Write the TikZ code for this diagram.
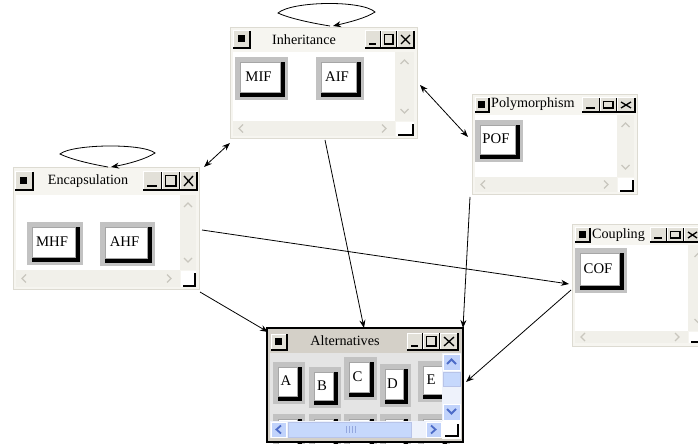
\documentclass[tikz,border=0pt]{standalone}
\usepackage{fontspec}
\setmainfont{Liberation Serif}
\usetikzlibrary{arrows.meta}
\definecolor{winbg}{HTML}{F6F5F0}
\definecolor{winedge}{HTML}{DDDBD2}
\definecolor{btnframe}{HTML}{C2C2C2}
\definecolor{sbtrack}{HTML}{F1F0EA}
\definecolor{sbmark}{HTML}{C9C7BE}
\definecolor{capface}{HTML}{E2E0D8}
\definecolor{altbg}{HTML}{D4D0C8}
\definecolor{altcontent}{HTML}{E4E4E4}
\definecolor{xpblue}{HTML}{C1D3FB}
\definecolor{xpthumb}{HTML}{C6D8FC}
\definecolor{xptrack}{HTML}{EEF2FB}
\definecolor{xpmark}{HTML}{4D6CC8}
\tikzset{
  conn/.style={line width=0.8bp, black},
  tip/.style={-{Stealth[length=8bp,width=6bp]}},
  dtip/.style={{Stealth[length=8bp,width=6bp]}-{Stealth[length=8bp,width=6bp]}},
  wtitle/.style={inner sep=0pt, font=\fontsize{14.2}{16}\selectfont},
  blabel/.style={inner sep=0pt, font=\fontsize{14.8}{17}\selectfont},
}
% 3D push button: name, x1, y1, x2, y2, label
\newcommand{\pushbtn}[6]{%
  \fill[btnframe] (#2,#3) rectangle (#4,#5);
  \fill[black] (#2+5,#3+5) rectangle (#4-3,#5-3);
  \filldraw[fill=white, draw=gray!70, line width=0.6bp] (#2+5,#3+5) rectangle (#4-8,#5-8);
  \node[blabel] (#1) at ({(#2+#4)/2-3},{(#3+#5)/2-2}) {#6};
}
% caption box x1 y1 x2 y2
\newcommand{\capbox}[4]{%
  \fill[capface] (#1,#2) rectangle (#3,#4);
  \draw[white, line width=1bp] (#1,#4) -- (#1,#2) -- (#3,#2);
  \draw[black, line width=1.2bp] (#1,#4) -- (#3,#4) -- (#3,#2);
}
% three caption buttons: x0 y1 x1 x2 x3 y2
\newcommand{\capbtns}[6]{%
  \capbox{#1}{#2}{#3}{#6}\capbox{#3}{#2}{#4}{#6}\capbox{#4}{#2}{#5}{#6}
  \draw[black, line width=2.2bp] (#1+4,#6-4) -- (#3-5,#6-4);
  \draw[black, line width=1.1bp] (#3+3.5,#2+3.5) rectangle (#4-4,#6-4);
  \draw[black, line width=1.3bp] (#4+4,#2+4) -- (#5-4,#6-4) (#4+4,#6-4) -- (#5-4,#2+4);
}
% system button x1 y1 x2 y2
\newcommand{\sysbtn}[4]{%
  \capbox{#1}{#2}{#3}{#4}
  \fill[black] ({(#1+#3)/2-4},{(#2+#4)/2-4}) rectangle ({(#1+#3)/2+3},{(#2+#4)/2+3});
}
% standard window: x1 y1 x2 y2 titlebottom scrollx hscrolly
\newcommand{\stdwin}[7]{%
  \filldraw[fill=winbg, draw=winedge, line width=1bp] (#1,#2) rectangle (#3,#4);
  \fill[white] (#1+3,#5+2) rectangle (#6,#7);
  \fill[sbtrack] (#6,#5+2) rectangle (#3-3,#7);
  \draw[sbmark, line width=1.3bp] ({(#6+#3-3)/2-4},#5+14) -- ({(#6+#3-3)/2},#5+10) -- ({(#6+#3-3)/2+4},#5+14);
  \draw[sbmark, line width=1.3bp] ({(#6+#3-3)/2-4},#7-12) -- ({(#6+#3-3)/2},#7-8) -- ({(#6+#3-3)/2+4},#7-12);
  \fill[sbtrack] (#1+3,#7) rectangle (#6,#4-3);
  \draw[sbmark, line width=1.3bp] (#1+13,{(#7+#4-3)/2-4}) -- (#1+9,{(#7+#4-3)/2}) -- (#1+13,{(#7+#4-3)/2+4});
  \draw[sbmark, line width=1.3bp] (#6-13,{(#7+#4-3)/2-4}) -- (#6-9,{(#7+#4-3)/2}) -- (#6-13,{(#7+#4-3)/2+4});
  \fill[white] (#6+1,#7+1) rectangle (#3-3,#4-3);
  \draw[black, line width=1.3bp] (#6+3,#4-4) -- (#3-4,#4-4) -- (#3-4,#7+3);
}
\begin{document}
\begin{tikzpicture}[x=1bp, y=-1bp]
\clip (0,0) rectangle (698,444);
\fill[white] (0,0) rectangle (698,444);

% ---------------- Inheritance ----------------
\stdwin{230}{28}{417}{139}{50}{395}{121}
\sysbtn{233}{31}{250}{48}
\node[wtitle] (tInh) at (304,40) {Inheritance};
\capbtns{365}{31}{381}{397}{414}{48}
\pushbtn{bMIF}{235}{57}{288}{100}{MIF}
\pushbtn{bAIF}{316}{57}{364}{100}{AIF}

% ---------------- Encapsulation ----------------
\stdwin{13}{168}{199}{290}{193}{180}{270}
\sysbtn{15}{172}{33}{190}
\node[wtitle] (tEnc) at (88,181) {Encapsulation};
\capbtns{143}{172}{162}{180}{197}{190}
\pushbtn{bMHF}{27}{222}{83}{265}{MHF}
\pushbtn{bAHF}{100}{222}{155}{266}{AHF}

% ---------------- Polymorphism ----------------
\stdwin{472}{95}{637}{195}{113}{617}{177}
\sysbtn{475}{98}{489}{112}
\node[wtitle, anchor=west] (tPol) at (491,104) {Polymorphism};
\capbtns{582}{98}{600}{617}{635}{112}
\pushbtn{bPOF}{475}{120}{523}{162}{POF}

% ---------------- Coupling ----------------
\stdwin{572}{225}{712}{346}{243}{688}{331}
\sysbtn{575}{228}{590}{242}
\node[wtitle, anchor=west] (tCou) at (592,235) {Coupling};
\capbtns{650}{228}{667}{684}{701}{242}
\pushbtn{bCOF}{575}{248}{627}{293}{COF}

% ---------------- Alternatives ----------------
\fill[altbg] (267,328) rectangle (463,442);
\fill[altcontent] (270,353) rectangle (442,421);
\pushbtn{bA}{273}{362}{305}{404}{A}
\pushbtn{bB}{309}{367}{341}{408}{B}
\pushbtn{bC}{344}{357}{377}{400}{C}
\pushbtn{bD}{380}{364}{411}{407}{D}
\pushbtn{bE}{418}{361}{450}{402}{E}
\pushbtn{bF}{273}{414}{305}{455}{}
\pushbtn{bG}{309}{414}{341}{455}{}
\pushbtn{bH}{344}{414}{377}{455}{}
\pushbtn{bI}{380}{414}{411}{455}{}
\pushbtn{bJ}{418}{414}{450}{455}{}
\fill[altbg] (268,421) rectangle (462,442);
% vertical scrollbar
\fill[xptrack] (442,353) rectangle (461,421);
\filldraw[fill=xpblue, draw=white] (443,354) rectangle (460,370);
\draw[xpmark, line width=1.8bp] (447,364) -- (451.5,359.5) -- (456,364);
\filldraw[fill=xpthumb, draw=xpmark!40] (443,372) rectangle (460,386);
\filldraw[fill=xpblue, draw=white] (443,404) rectangle (460,420);
\draw[xpmark, line width=1.8bp] (447,409) -- (451.5,413.5) -- (456,409);
% horizontal scrollbar
\fill[xptrack] (270,421) rectangle (442,438);
\filldraw[fill=xpblue, draw=white] (271,422) rectangle (286,437);
\draw[xpmark, line width=1.8bp] (281,425.5) -- (276.5,429.5) -- (281,433.5);
\filldraw[fill=xpthumb, draw=xpmark!40] (288,422) rectangle (411,437);
\draw[xpmark!60, line width=0.6bp] (346,426) -- (346,433) (349,426) -- (349,433) (352,426) -- (352,433) (355,426) -- (355,433);
\filldraw[fill=xpblue, draw=white] (426,422) rectangle (441,437);
\draw[xpmark, line width=1.8bp] (431,425.5) -- (435.5,429.5) -- (431,433.5);
% grip
\fill[white] (442,421) rectangle (461,439);
\draw[black, line width=1.3bp] (445,436) -- (458,436) -- (458,424);
% title bar
\fill[altbg] (268,329) rectangle (462,352);
\sysbtn{271}{334}{287}{350}
\node[wtitle] (tAlt) at (345,341) {Alternatives};
\capbtns{407}{333}{423}{440}{458}{350}
\draw[black, line width=1.6bp] (267,328) rectangle (463,442);

% ---------------- self loops ----------------
\coordinate (lpI) at (330,26);
\coordinate (lpIe) at (333,26);
\draw[conn, tip] (lpI) .. controls (305,22) and (286,17) .. (278,13) .. controls (292,1) and (362,0) .. (375,12) .. controls (366,18) and (350,22) .. (lpIe);
\coordinate (lpE) at (108,167);
\coordinate (lpEe) at (111,167);
\draw[conn, tip] (lpE) .. controls (85,163) and (68,158) .. (60,154) .. controls (72,144) and (143,143) .. (155,153) .. controls (146,159) and (128,164) .. (lpEe);

% ---------------- connectors ----------------
\coordinate (inhSW) at (230,143);
\coordinate (encNE) at (204,167);
\coordinate (inhE) at (420,85);
\coordinate (polW) at (468,137);
\coordinate (inhS) at (325,140);
\coordinate (altT1) at (364,328);
\coordinate (encSE) at (200,292);
\coordinate (altNW) at (268,332);
\coordinate (encE) at (202,230);
\coordinate (couW) at (569,284);
\coordinate (polS) at (470,197);
\coordinate (altT2) at (463,328);
\coordinate (couSW) at (571,290);
\coordinate (altE) at (466,382);
\draw[conn, dtip] (encNE) -- (inhSW);
\draw[conn, dtip] (inhE) -- (polW);
\draw[conn, tip] (inhS) -- (altT1);
\draw[conn, tip] (encSE) -- (altNW);
\draw[conn, tip] (encE) -- (couW);
\draw[conn, tip] (polS) -- (altT2);
\draw[conn, tip] (couSW) -- (altE);
\end{tikzpicture}
\end{document}
